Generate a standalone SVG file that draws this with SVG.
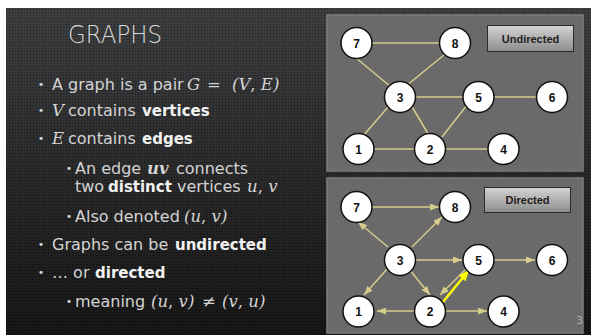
<svg xmlns="http://www.w3.org/2000/svg" width="591" height="336" viewBox="0 0 591 336">
  <defs>
    <linearGradient id="bgGrad" x1="0" y1="0" x2="0" y2="1">
      <stop offset="0" stop-color="#3b3c3e"/>
      <stop offset="0.55" stop-color="#262627"/>
      <stop offset="1" stop-color="#141414"/>
    </linearGradient>
    <pattern id="dots" width="3" height="3" patternUnits="userSpaceOnUse">
      <rect x="0" y="0" width="1" height="1" fill="#000" fill-opacity="0.35"/>
      <rect x="1.5" y="1.5" width="1" height="1" fill="#fff" fill-opacity="0.05"/>
    </pattern>
    <linearGradient id="tagGrad" x1="0" y1="0" x2="0" y2="1">
      <stop offset="0" stop-color="#d4d4d4"/>
      <stop offset="1" stop-color="#8c8c8c"/>
    </linearGradient>
    <marker id="arrow" markerUnits="userSpaceOnUse" markerWidth="9" markerHeight="7" refX="9" refY="3.5" orient="auto">
      <path d="M0,0 L9,3.5 L0,7 z" fill="#d8cc8c"/>
    </marker>
    <marker id="arrowHot" markerUnits="userSpaceOnUse" markerWidth="11" markerHeight="9" refX="11" refY="4.5" orient="auto">
      <path d="M0,0 L11,4.5 L0,9 z" fill="#ffff00"/>
    </marker>
  </defs>
  <style>
    .body { font-family: "DejaVu Sans", "Noto Sans", sans-serif; font-size: 16px; fill: #d4d4d4; }
    .strong { font-weight: bold; font-size: 15px; fill: #f2f2f2; }
    .math { font-family: "DejaVu Serif", "Liberation Serif", serif; font-style: italic; font-size: 16.5px; }
    .up { font-style: normal; }
    .bullet { font-family: "DejaVu Sans", sans-serif; font-size: 11px; fill: #d4d4d4; text-anchor: middle; }
    .panel { fill: #6a6a6a; stroke: #7d7d7d; stroke-width: 1.5; }
    .tag rect { fill: url(#tagGrad); stroke: #2b2b2b; stroke-width: 1; }
    .tag text { font-family: "Liberation Sans", Arial, sans-serif; font-weight: bold; font-size: 11px; fill: #1e1e1e; text-anchor: middle; }
    .node circle { fill: #ffffff; stroke: #111111; stroke-width: 1.5; }
    .node text { font-family: "Liberation Sans", Arial, sans-serif; font-weight: bold; font-size: 12px; fill: #111111; text-anchor: middle; }
    .edge { stroke: #d8cc8c; stroke-width: 1.5; fill: none; }
    .edge.dir { marker-end: url(#arrow); }
    .edge.hot { stroke: #ffff00; stroke-width: 2.5; marker-end: url(#arrowHot); }
  </style>

  <!-- slide background -->
  <rect x="0" y="0" width="591" height="336" fill="#ffffff"/>
  <rect x="6" y="8" width="585" height="327" fill="url(#bgGrad)"/>
  <rect x="6" y="8" width="585" height="327" fill="url(#dots)"/>

  <!-- title and bullet text -->
  <text x="68" y="43" font-family="DejaVu Sans, sans-serif" font-weight="200" font-size="24" fill="#d9d9d9" textLength="94" lengthAdjust="spacingAndGlyphs">GRAPHS</text>

  <g id="bullets">
    <text class="bullet" x="41" y="88">•</text>
    <text class="body" x="52" y="90">A graph is a pair<tspan class="math" x="187">G</tspan><tspan class="math up" x="207">=</tspan><tspan class="math" x="232">(V</tspan><tspan class="math up">, </tspan><tspan class="math">E)</tspan></text>

    <text class="bullet" x="41" y="114">•</text>
    <text class="body" x="52" y="116"><tspan class="math">V</tspan><tspan x="68">contains</tspan><tspan class="strong" x="142">vertices</tspan></text>

    <text class="bullet" x="41" y="142">•</text>
    <text class="body" x="52" y="144"><tspan class="math">E</tspan><tspan x="68">contains</tspan><tspan class="strong" x="142">edges</tspan></text>

    <text class="bullet" x="69" y="172">•</text>
    <text class="body" x="75" y="174">An edge<tspan class="math" font-weight="bold" x="147">uv</tspan><tspan x="176">connects</tspan></text>
    <text class="body" x="75" y="192">two<tspan class="strong" x="108">distinct</tspan><tspan x="177">vertices</tspan><tspan class="math" x="247">u</tspan><tspan class="math up">, </tspan><tspan class="math">v</tspan></text>

    <text class="bullet" x="69" y="220">•</text>
    <text class="body" x="75" y="222">Also denoted<tspan class="math" x="184">(u</tspan><tspan class="math up">, </tspan><tspan class="math">v)</tspan></text>

    <text class="bullet" x="41" y="248">•</text>
    <text class="body" x="52" y="250">Graphs can be<tspan class="strong" x="175">undirected</tspan></text>

    <text class="bullet" x="41" y="276">•</text>
    <text class="body" x="52" y="278">… or<tspan class="strong" x="95">directed</tspan></text>

    <text class="bullet" x="69" y="305">•</text>
    <text class="body" x="75" y="307">meaning<tspan class="math" x="151">(u</tspan><tspan class="math up">, </tspan><tspan class="math">v)</tspan><tspan class="math up" x="202">≠</tspan><tspan class="math" x="222">(v</tspan><tspan class="math up">, </tspan><tspan class="math">u)</tspan></text>
  </g>

  <!-- undirected example -->
  <rect class="panel" x="327" y="15" width="256" height="156"/>
  <g id="tag-undirected" class="tag">
    <rect x="487.5" y="25.5" width="86" height="26"/>
    <text x="530.5" y="42.5">Undirected</text>
  </g>
  <g id="undirected-edges">
    <line class="edge" x1="371" y1="43" x2="441" y2="43"/>
    <line class="edge" x1="356" y1="58" x2="391" y2="87"/>
    <line class="edge" x1="444" y1="55" x2="406" y2="86"/>
    <line class="edge" x1="414" y1="97" x2="464" y2="97"/>
    <line class="edge" x1="492" y1="97" x2="538" y2="97"/>
    <line class="edge" x1="389" y1="106" x2="363" y2="136"/>
    <line class="edge" x1="411" y1="105" x2="430" y2="137"/>
    <line class="edge" x1="467" y1="105" x2="442" y2="137"/>
    <line class="edge" x1="372" y1="149" x2="416" y2="149"/>
    <line class="edge" x1="444" y1="149" x2="489" y2="149"/>
  </g>
  <g id="u7" class="node"><circle cx="356.5" cy="43" r="15.5"/><text x="356.5" y="47.5">7</text></g>
  <g id="u8" class="node"><circle cx="455" cy="43" r="15.5"/><text x="455" y="47.5">8</text></g>
  <g id="u3" class="node"><circle cx="400" cy="97" r="15.5"/><text x="400" y="101.5">3</text></g>
  <g id="u5" class="node"><circle cx="478.5" cy="97" r="15.5"/><text x="478.5" y="101.5">5</text></g>
  <g id="u6" class="node"><circle cx="552" cy="97" r="15.5"/><text x="552" y="101.5">6</text></g>
  <g id="u1" class="node"><circle cx="358.5" cy="149" r="15.5"/><text x="358.5" y="153.5">1</text></g>
  <g id="u2" class="node"><circle cx="430" cy="149" r="15.5"/><text x="430" y="153.5">2</text></g>
  <g id="u4" class="node"><circle cx="503.5" cy="149" r="15.5"/><text x="503.5" y="153.5">4</text></g>

  <!-- directed example -->
  <rect class="panel" x="327" y="178" width="256" height="155"/>
  <g id="tag-directed" class="tag">
    <rect x="484.5" y="187.5" width="86" height="25"/>
    <text x="527.5" y="204">Directed</text>
  </g>
  <g id="directed-edges">
    <line class="edge dir" x1="372" y1="207" x2="439" y2="207"/>
    <line class="edge dir" x1="388" y1="247" x2="358" y2="222"/>
    <line class="edge dir" x1="412" y1="247" x2="442" y2="217"/>
    <line class="edge dir" x1="415" y1="260" x2="462" y2="260"/>
    <line class="edge dir" x1="493" y1="260" x2="535" y2="260"/>
    <line class="edge dir" x1="388" y1="268" x2="364" y2="295"/>
    <line class="edge dir" x1="410" y1="270" x2="430" y2="295"/>
    <line class="edge dir" x1="468" y1="267" x2="440" y2="295"/>
    <line class="edge hot" x1="443" y1="302" x2="469" y2="270"/>
    <line class="edge dir" x1="415" y1="311" x2="377" y2="311"/>
    <line class="edge dir" x1="446" y1="311" x2="487" y2="311"/>
  </g>
  <g id="d7" class="node"><circle cx="356.5" cy="207" r="15.5"/><text x="356.5" y="211.5">7</text></g>
  <g id="d8" class="node"><circle cx="455" cy="207" r="15.5"/><text x="455" y="211.5">8</text></g>
  <g id="d3" class="node"><circle cx="400" cy="260" r="15.5"/><text x="400" y="264.5">3</text></g>
  <g id="d5" class="node"><circle cx="478.5" cy="260" r="15.5"/><text x="478.5" y="264.5">5</text></g>
  <g id="d6" class="node"><circle cx="552" cy="260" r="15.5"/><text x="552" y="264.5">6</text></g>
  <g id="d1" class="node"><circle cx="358.5" cy="311.5" r="15.5"/><text x="358.5" y="316">1</text></g>
  <g id="d2" class="node"><circle cx="430" cy="311.5" r="15.5"/><text x="430" y="316">2</text></g>
  <g id="d4" class="node"><circle cx="503.5" cy="311.5" r="15.5"/><text x="503.5" y="316">4</text></g>

  <!-- slide number -->
  <text x="576.5" y="324" font-family="DejaVu Sans, sans-serif" font-size="10" fill="#b0b0b0">3</text>
</svg>
